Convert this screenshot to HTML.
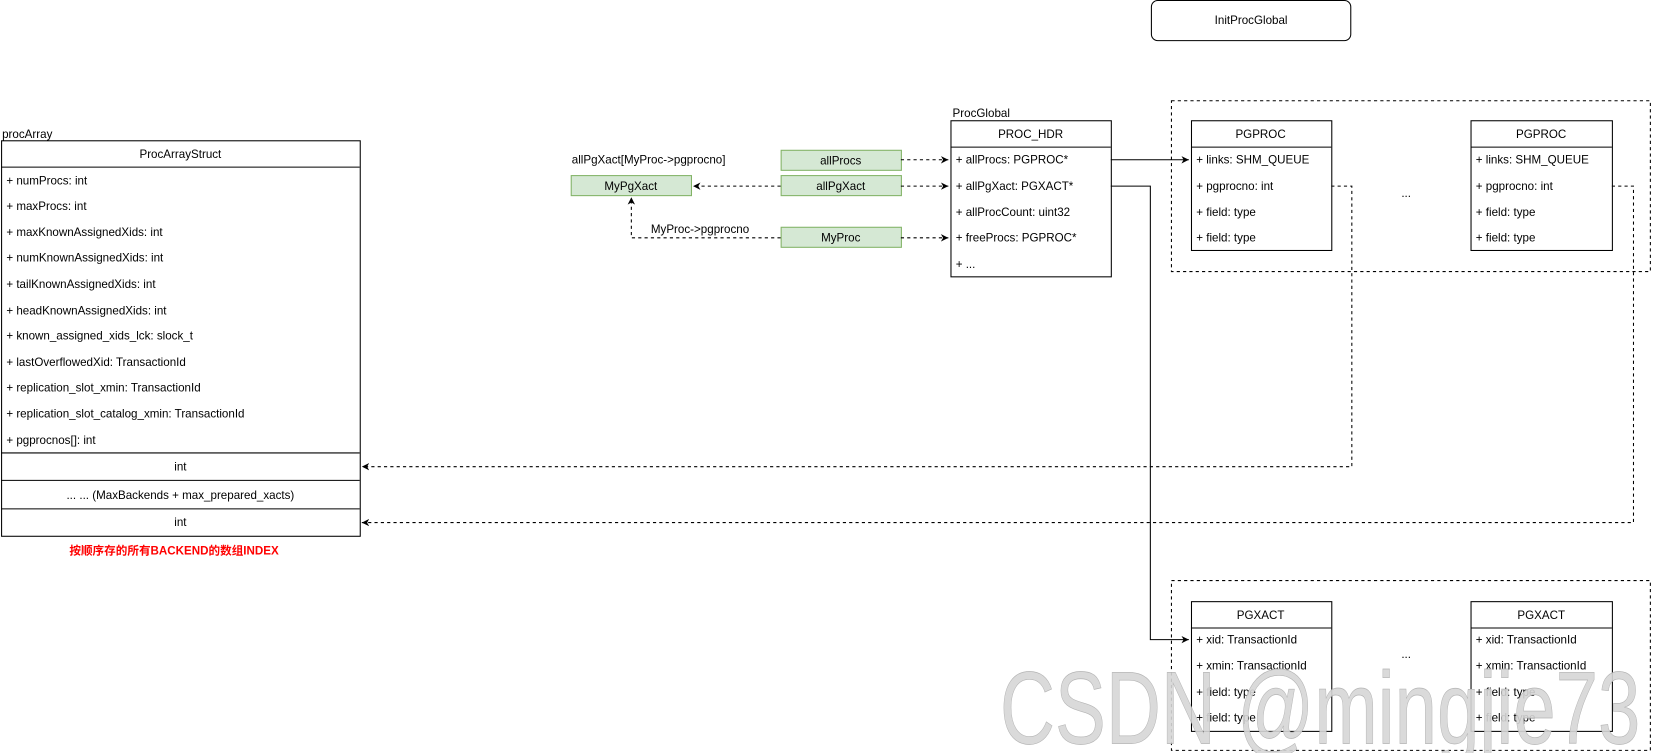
<!DOCTYPE html>
<html><head><meta charset="utf-8"><style>
html,body{margin:0;padding:0;background:#fff;width:1653px;height:753px;overflow:hidden}
svg{display:block}
text{font-family:"Liberation Sans","Noto Sans CJK SC",sans-serif;font-size:11px;fill:#000}
</style></head><body>
<svg width="1653" height="753" viewBox="0 0 1567 714" preserveAspectRatio="none" xmlns="http://www.w3.org/2000/svg">
<defs>
<marker id="a" markerWidth="8" markerHeight="8" refX="7" refY="4" orient="auto" markerUnits="userSpaceOnUse"><path d="M0,0.5 L7,4 L0,7.5 L2,4 Z" fill="#000"/></marker>
</defs>
<g fill="none" stroke="#000" stroke-width="1">
<rect x="1091.5" y="0.5" width="189" height="38" rx="6"/>
<rect x="1.5" y="133.5" width="340" height="375"/>
<line x1="1" y1="158.5" x2="341" y2="158.5"/>
<line x1="1" y1="429.5" x2="341" y2="429.5"/>
<line x1="1" y1="455.5" x2="341" y2="455.5"/>
<line x1="1" y1="482.5" x2="341" y2="482.5"/>
<rect x="901.5" y="114.5" width="152" height="148"/>
<line x1="901" y1="139.5" x2="1053" y2="139.5"/>
<rect x="1129.5" y="114.5" width="133" height="123"/>
<line x1="1129" y1="139.5" x2="1262" y2="139.5"/>
<rect x="1394.5" y="114.5" width="134" height="123"/>
<line x1="1394" y1="139.5" x2="1528" y2="139.5"/>
<rect x="1129.5" y="570.5" width="133" height="123"/>
<line x1="1129" y1="595.5" x2="1262" y2="595.5"/>
<rect x="1394.5" y="570.5" width="134" height="123"/>
<line x1="1394" y1="595.5" x2="1528" y2="595.5"/>
</g>
<g fill="none" stroke="#000" stroke-dasharray="3,3">
<rect x="1110.5" y="95.5" width="454" height="162"/>
<rect x="1110.5" y="550.5" width="454" height="161"/>
</g>
<g fill="#d5e8d4" stroke="#82b366">
<rect x="740.5" y="142.5" width="114" height="19"/>
<rect x="740.5" y="166.5" width="114" height="19"/>
<rect x="740.5" y="215.5" width="114" height="19"/>
<rect x="541.5" y="166.5" width="114" height="19"/>
</g>
<g fill="none" stroke="#000">
<path d="M1053,151.5 H1127" marker-end="url(#a)"/>
<path d="M1053,176.5 H1090.5 V606.5 H1127" marker-end="url(#a)"/>
</g>
<g fill="none" stroke="#000" stroke-dasharray="3,3">
<path d="M854,151.5 H899" marker-end="url(#a)"/>
<path d="M854,176.5 H899" marker-end="url(#a)"/>
<path d="M854,225.5 H899" marker-end="url(#a)"/>
<path d="M740,176.5 H657" marker-end="url(#a)"/>
<path d="M740,225.5 H598.5 V187" marker-end="url(#a)"/>
<path d="M1262,176.5 H1281.5 V442.5 H343" marker-end="url(#a)"/>
<path d="M1528,176.5 H1548.5 V495.5 H343" marker-end="url(#a)"/>
</g>
<text x="1186" y="23" text-anchor="middle">InitProcGlobal</text>
<text x="2" y="131">procArray</text>
<text x="171" y="150" text-anchor="middle">ProcArrayStruct</text>
<text x="6" y="175">+ numProcs: int</text>
<text x="6" y="199">+ maxProcs: int</text>
<text x="6" y="224">+ maxKnownAssignedXids: int</text>
<text x="6" y="248">+ numKnownAssignedXids: int</text>
<text x="6" y="273">+ tailKnownAssignedXids: int</text>
<text x="6" y="298">+ headKnownAssignedXids: int</text>
<text x="6" y="322">+ known_assigned_xids_lck: slock_t</text>
<text x="6" y="347">+ lastOverflowedXid: TransactionId</text>
<text x="6" y="371">+ replication_slot_xmin: TransactionId</text>
<text x="6" y="396">+ replication_slot_catalog_xmin: TransactionId</text>
<text x="6" y="421">+ pgprocnos[]: int</text>
<text x="171" y="446" text-anchor="middle">int</text>
<text x="171" y="473" text-anchor="middle">... ... (MaxBackends + max_prepared_xacts)</text>
<text x="171" y="499" text-anchor="middle">int</text>
<text x="165" y="526" text-anchor="middle" style="fill:#ff0000;font-weight:bold">按顺序存的所有BACKEND的数组INDEX</text>

<text x="542" y="155">allPgXact[MyProc-&gt;pgprocno]</text>
<text x="598" y="180" text-anchor="middle">MyPgXact</text>
<text x="797" y="156" text-anchor="middle">allProcs</text>
<text x="797" y="180" text-anchor="middle">allPgXact</text>
<text x="797" y="229" text-anchor="middle">MyProc</text>
<text x="617" y="221">MyProc-&gt;pgprocno</text>

<text x="903" y="111">ProcGlobal</text>
<text x="977" y="131" text-anchor="middle">PROC_HDR</text>
<text x="906" y="155">+ allProcs: PGPROC*</text>
<text x="906" y="180">+ allPgXact: PGXACT*</text>
<text x="906" y="205">+ allProcCount: uint32</text>
<text x="906" y="229">+ freeProcs: PGPROC*</text>
<text x="906" y="254">+ ...</text>

<text x="1195" y="131" text-anchor="middle">PGPROC</text>
<text x="1134" y="155">+ links: SHM_QUEUE</text>
<text x="1134" y="180">+ pgprocno: int</text>
<text x="1134" y="205">+ field: type</text>
<text x="1134" y="229">+ field: type</text>
<text x="1461" y="131" text-anchor="middle">PGPROC</text>
<text x="1399" y="155">+ links: SHM_QUEUE</text>
<text x="1399" y="180">+ pgprocno: int</text>
<text x="1399" y="205">+ field: type</text>
<text x="1399" y="229">+ field: type</text>
<text x="1333" y="187" text-anchor="middle">...</text>

<text x="1195" y="587" text-anchor="middle">PGXACT</text>
<text x="1134" y="610">+ xid: TransactionId</text>
<text x="1134" y="635">+ xmin: TransactionId</text>
<text x="1134" y="660">+ field: type</text>
<text x="1134" y="684">+ field: type</text>
<text x="1461" y="587" text-anchor="middle">PGXACT</text>
<text x="1399" y="610">+ xid: TransactionId</text>
<text x="1399" y="635">+ xmin: TransactionId</text>
<text x="1399" y="660">+ field: type</text>
<text x="1399" y="684">+ field: type</text>
<text x="1333" y="624" text-anchor="middle">...</text>

<text x="948" y="705" textLength="607" lengthAdjust="spacingAndGlyphs" style="font-size:98px;fill:#d6d6d6;stroke:#b4b4b4;stroke-width:0.6;fill-opacity:0.9">CSDN @mingjie73</text>
</svg>
</body></html>
